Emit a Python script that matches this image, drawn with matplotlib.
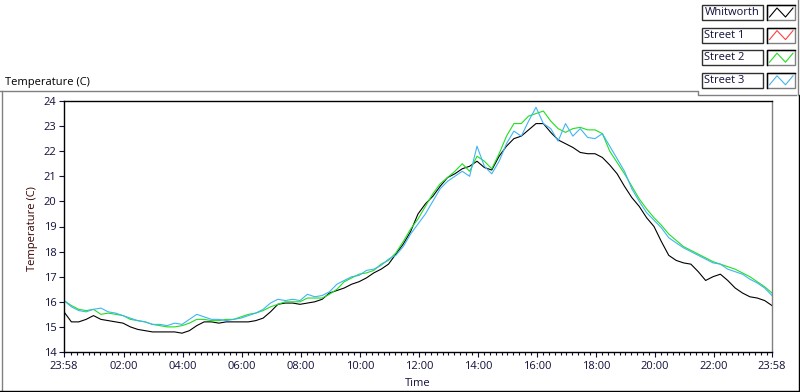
import numpy as np
import matplotlib
matplotlib.use("Agg")
import matplotlib.pyplot as plt
from matplotlib.patches import Rectangle
from matplotlib.lines import Line2D

plt.rcParams['font.family'] = ['Open Sans', 'DejaVu Sans']

# sample times in hours after 23:58, one reading every 15 minutes
hours = np.arange(97) * 0.25

whitworth = [15.6, 15.2, 15.2, 15.3, 15.45, 15.3, 15.25, 15.2, 15.15, 15.0, 14.9, 14.85,
             14.8, 14.8, 14.8, 14.8, 14.75, 14.85, 15.05, 15.2, 15.2, 15.15, 15.2, 15.2,
             15.2, 15.2, 15.25, 15.35, 15.6, 15.9, 15.95, 15.95, 15.9, 15.95, 16.0, 16.1,
             16.35, 16.45, 16.55, 16.7, 16.8, 16.95, 17.15, 17.3, 17.5, 17.9, 18.3, 18.8,
             19.5, 19.9, 20.2, 20.6, 20.95, 21.1, 21.3, 21.4, 21.6, 21.35, 21.25, 21.8,
             22.2, 22.5, 22.6, 22.85, 23.1, 23.1, 22.75, 22.45, 22.3, 22.15, 21.95, 21.9,
             21.9, 21.75, 21.45, 21.1, 20.6, 20.15, 19.8, 19.35, 19.0, 18.4, 17.85, 17.65,
             17.55, 17.5, 17.2, 16.85, 17.0, 17.1, 16.85, 16.55, 16.35, 16.2, 16.15, 16.05,
             15.85]
street1 = []
street2 = [16.05, 15.85, 15.7, 15.65, 15.7, 15.5, 15.55, 15.5, 15.45, 15.3, 15.25, 15.2,
           15.1, 15.05, 15.0, 15.0, 15.05, 15.15, 15.3, 15.3, 15.25, 15.25, 15.3, 15.3,
           15.4, 15.5, 15.55, 15.65, 15.8, 15.9, 16.0, 16.0, 16.0, 16.15, 16.15, 16.15,
           16.3, 16.5, 16.8, 16.95, 17.1, 17.15, 17.25, 17.5, 17.65, 17.95, 18.4, 18.9,
           19.3, 19.8, 20.3, 20.7, 20.95, 21.2, 21.5, 21.2, 21.8, 21.6, 21.3, 21.9,
           22.6, 23.1, 23.1, 23.4, 23.5, 23.6, 23.2, 22.9, 22.75, 22.9, 22.95, 22.85,
           22.85, 22.7, 22.0, 21.55, 21.1, 20.6, 20.1, 19.7, 19.35, 19.05, 18.7, 18.45,
           18.2, 18.05, 17.9, 17.75, 17.6, 17.5, 17.4, 17.3, 17.15, 17.0, 16.8, 16.6,
           16.35]
street3 = [16.05, 15.8, 15.65, 15.6, 15.7, 15.75, 15.6, 15.55, 15.45, 15.35, 15.25, 15.2,
           15.1, 15.1, 15.05, 15.15, 15.1, 15.3, 15.5, 15.4, 15.3, 15.3, 15.25, 15.3,
           15.35, 15.45, 15.55, 15.7, 15.95, 16.1, 16.05, 16.1, 16.05, 16.3, 16.2, 16.25,
           16.4, 16.7, 16.85, 17.0, 17.05, 17.25, 17.3, 17.45, 17.7, 17.85, 18.2, 18.7,
           19.1, 19.5, 20.0, 20.5, 20.8, 21.0, 21.2, 21.0, 22.2, 21.4, 21.1, 21.6,
           22.3, 22.8, 22.6, 23.2, 23.75, 23.1, 22.9, 22.4, 23.1, 22.6, 22.9, 22.55,
           22.5, 22.7, 22.2, 21.7, 21.2, 20.5, 20.0, 19.55, 19.25, 18.95, 18.55, 18.35,
           18.15, 18.0, 17.85, 17.7, 17.55, 17.5, 17.3, 17.2, 17.1, 16.9, 16.75, 16.55,
           16.25]

names = ['Whitworth', 'Street 1', 'Street 2', 'Street 3']
colors = ['#000000', '#ff4040', '#1ee01e', '#40b4f4']

tick_pos = [0, 2 + 2 / 60, 4 + 2 / 60, 6 + 2 / 60, 8 + 2 / 60, 10 + 2 / 60, 12 + 2 / 60,
            14 + 2 / 60, 16 + 2 / 60, 18 + 2 / 60, 20 + 2 / 60, 22 + 2 / 60, 24]
tick_labels = ['23:58', '02:00', '04:00', '06:00', '08:00', '10:00', '12:00',
               '14:00', '16:00', '18:00', '20:00', '22:00', '23:58']

W, H = 800, 392
fig = plt.figure(figsize=(W / 100, H / 100), dpi=100)


def P(x, y):
    return x / W, 1 - y / H


ax = fig.add_axes([64 / W, 1 - 352 / H, (772 - 64) / W, (352 - 101) / H])

ax.plot(hours, whitworth, color=colors[0], lw=0.8)
ax.plot(hours[:len(street1)], street1, color=colors[1], lw=0.8)
ax.plot(hours, street2, color=colors[2], lw=0.8)
ax.plot(hours, street3, color=colors[3], lw=0.8)

ax.set_xlim(0, 24)
ax.set_ylim(14, 24)
ax.set_yticks(range(14, 25))
ax.set_xticks(tick_pos)
ax.set_xticklabels(tick_labels)
minor = [t for t in np.arange(2 + 2 / 60 - 0.2 * 10, 24, 0.2) if 0.05 < t < 23.99]
ax.set_xticks(minor, minor=True)

for s in ['left', 'bottom', 'top']:
    ax.spines[s].set_color('black')
    ax.spines[s].set_linewidth(1.0)
ax.spines['right'].set_color('#808080')
ax.spines['right'].set_linewidth(1.0)

ax.tick_params(axis='both', which='major', labelsize=8, colors='#10103a',
               length=3.5, width=0.8, direction='out')
ax.tick_params(axis='x', which='minor', length=2.2, width=0.8, direction='out', color='#10103a')
ax.tick_params(axis='y', pad=2)
ax.tick_params(axis='x', pad=3)

fig.text(*P(33, 229), 'Temperature (C)', rotation=90, ha='center', va='center',
         fontsize=8, color='#3a0000')
fig.text(*P(418, 384), 'Time', ha='center', va='center', fontsize=8, color='#10103a')
fig.text(*P(5, 82), 'Temperature (C)', ha='left', va='center', fontsize=8, color='#000000')

# panel frame
frame = [
    ([0, 698, 698, 796], [91, 91, 95, 95], '#808080'),
    ([1.5, 1.5], [91, 390], '#808080'),
    ([0, 799], [390.5, 390.5], '#000000'),
    ([798.5, 798.5], [95, 390.5], '#000000'),
    ([798, 798], [0, 95], '#808080'),
]
for xs, ys, c in frame:
    fig.add_artist(Line2D([x / W for x in xs], [1 - y / H for y in ys],
                          color=c, lw=1.0, transform=fig.transFigure))

# legend
for i, (name, c) in enumerate(zip(names, colors)):
    top = 5 + i * 22.6
    fig.add_artist(Rectangle(P(702, top + 15), 61 / W, 15 / H, transform=fig.transFigure,
                             facecolor='white', edgecolor='#303030', lw=1.0))
    fig.text(*P(704.5, top + 7.5), name, ha='left', va='center', fontsize=8,
             color='#10103a')
    fig.add_artist(Rectangle(P(767, top + 15), 28 / W, 15 / H, transform=fig.transFigure,
                             facecolor='white', edgecolor='#808080', lw=1.0))
    fig.add_artist(Line2D([767 / W, 767 / W, 795 / W], [1 - (top + 15) / H, 1 - top / H, 1 - top / H],
                          color='#000000', lw=1.0, transform=fig.transFigure))
    zx = [769.5, 777, 785.5, 793]
    zy = [top + 12, top + 3, top + 12, top + 3]
    fig.add_artist(Line2D([x / W for x in zx], [1 - y / H for y in zy],
                          color=c, lw=0.8, transform=fig.transFigure))

fig.savefig('out.png', dpi=100, facecolor='white')
